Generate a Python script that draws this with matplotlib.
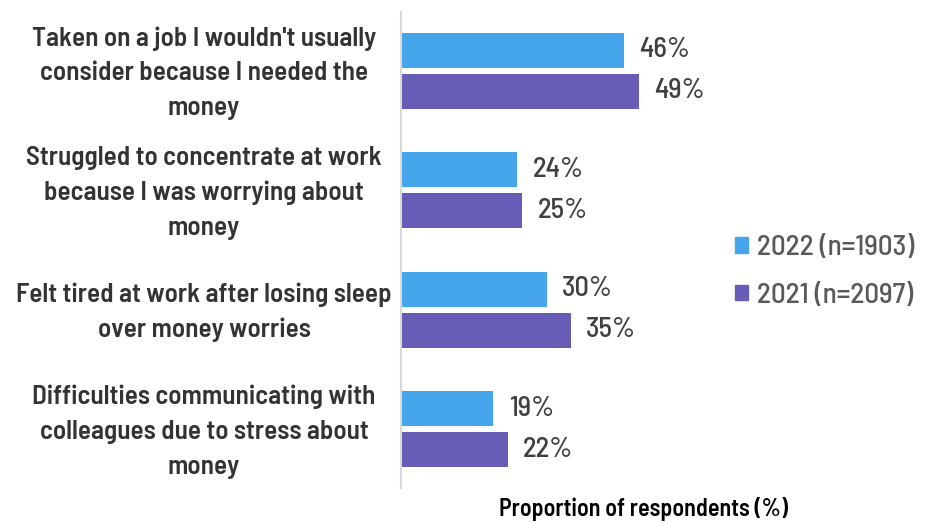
import numpy as np
import matplotlib
matplotlib.use("Agg")
import matplotlib.pyplot as plt
from matplotlib.patches import Patch

# survey answers (top to bottom)
categories = [
    "Taken on a job I wouldn't usually\nconsider because I needed the\nmoney",
    "Struggled to concentrate at work\nbecause I was worrying about\nmoney",
    "Felt tired at work after losing sleep\nover money worries",
    "Difficulties communicating with\ncolleagues due to stress about\nmoney",
]
vals_2022 = [46, 24, 30, 19]
vals_2021 = [49, 25, 35, 22]
series_names = ["2022 (n=1903)", "2021 (n=2097)"]

BLUE = "#45A5EB"
PURPLE = "#675DB7"

plt.rcParams["font.family"] = ["Barlow Semi Condensed", "DejaVu Sans"]

W, H = 925, 523
fig = plt.figure(figsize=(W / 100, H / 100), dpi=100)
ax = fig.add_axes([401 / W, 1 - 488 / H, 485 / W, 476 / H])

y = np.arange(len(categories))
off, bh = 0.172, 0.293
ax.barh(y - off, vals_2022, height=bh, color=BLUE)
ax.barh(y + off, vals_2021, height=bh, color=PURPLE)

for yi, v in zip(y - off, vals_2022):
    ax.text(v + 3.2, yi, f"{v}%", va="center", ha="left", fontsize=20.5,
            fontweight=500, color="#404040")
for yi, v in zip(y + off, vals_2021):
    ax.text(v + 3.2, yi, f"{v}%", va="center", ha="left", fontsize=20.5,
            fontweight=500, color="#404040")

ax.set_xlim(0, 100)
ax.set_ylim(3.49, -0.49)
for s in ["top", "right", "bottom"]:
    ax.spines[s].set_visible(False)
ax.spines["left"].set_color("#d9d9d9")
ax.spines["left"].set_linewidth(1.5)
ax.set_xticks([])
ax.set_yticks([])

# category labels, centred blocks left of the axis
for yi, lab in zip(y, categories):
    ax.text(-(401 - 204) / 485 * 100, yi + 0.02, lab, ha="center", va="center",
            multialignment="center", fontsize=19.5, fontweight=600,
            color="#333333", linespacing=1.56, clip_on=False)

ax.text(0.5, -(509 - 488) / 476, "Proportion of respondents (%)", transform=ax.transAxes,
        ha="center", va="center", fontsize=17.3, fontweight=600, color="black")

handles = [Patch(color=BLUE), Patch(color=PURPLE)]
fig.legend(handles, series_names, loc="center left", bbox_to_anchor=(735 / W, 1 - 272 / H),
           frameon=False, labelcolor="#595959", handlelength=0.45,
           handleheight=0.45, handletextpad=0.3, labelspacing=0.75,
           borderpad=0, borderaxespad=0, prop={"weight": 500, "size": 21})

fig.savefig("out.png", dpi=100)
